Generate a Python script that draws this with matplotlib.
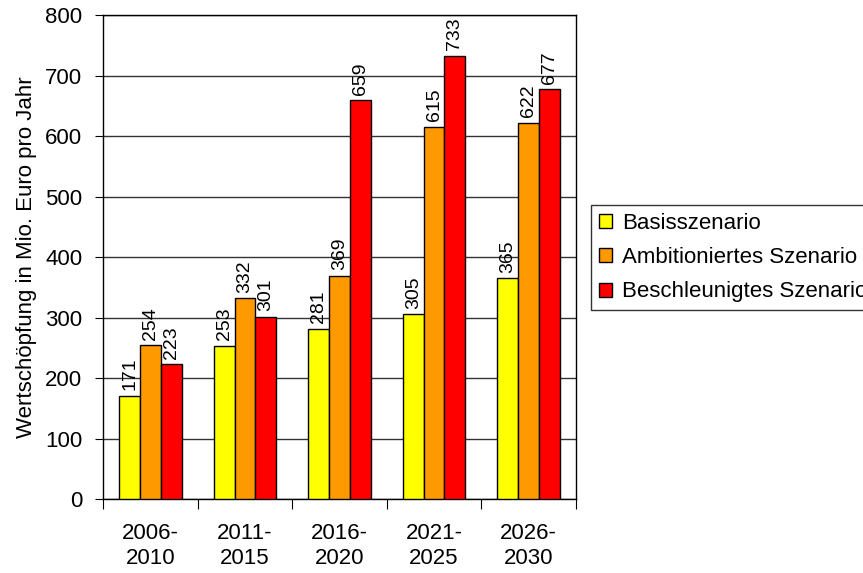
import numpy as np
import matplotlib.pyplot as plt

plt.rcParams['font.family'] = ['Liberation Sans', 'DejaVu Sans']

zeitraeume = ['2006-\n2010', '2011-\n2015', '2016-\n2020', '2021-\n2025', '2026-\n2030']
basis = [171, 253, 281, 305, 365]
ambitioniert = [254, 332, 369, 615, 622]
beschleunigt = [223, 301, 659, 733, 677]

szenarien = ['Basisszenario', 'Ambitioniertes Szenario', 'Beschleunigtes Szenario']
farben = ['#FFFF00', '#FF9900', '#FF0000']

fig = plt.figure(figsize=(8.63, 5.73), dpi=100)
ax = fig.add_axes([0.1194, 0.1291, 0.548, 0.8447])

x = np.arange(len(zeitraeume))
breite = 0.22
for i, (werte, name, farbe) in enumerate(zip([basis, ambitioniert, beschleunigt], szenarien, farben)):
    pos = x + (i - 1) * breite
    bars = ax.bar(pos, werte, breite, color=farbe, edgecolor='black', linewidth=1,
                  label=name, zorder=3)
    for b, w in zip(bars, werte):
        ax.annotate(str(w), (b.get_x() + b.get_width() / 2, w), xytext=(0, 4),
                    textcoords='offset points', rotation=90, ha='center', va='bottom',
                    fontsize=14)

ax.set_xlim(-0.5, len(zeitraeume) - 0.5)
ax.set_ylim(0, 800)
ax.set_yticks(range(0, 801, 100))
ax.yaxis.grid(True, color='#333333', linewidth=1, zorder=0)

# Kategorien zwischen den Teilstrichen
ax.set_xticks(np.arange(-0.5, len(zeitraeume)), minor=False)
ax.set_xticklabels([])
ax.set_xticks(x, minor=True)
ax.set_xticklabels(zeitraeume, minor=True, fontsize=16, linespacing=1.3)
ax.tick_params(axis='x', which='minor', length=0, pad=17)
ax.tick_params(axis='x', which='major', length=7, direction='out', color='black')
ax.tick_params(axis='y', length=6, direction='out', labelsize=16, pad=9)

for s in ax.spines.values():
    s.set_color('black')
    s.set_linewidth(1)

ax.set_ylabel('Wertschöpfung in Mio. Euro pro Jahr', fontsize=16, labelpad=6)

fig.legend(loc='upper left', bbox_to_anchor=(591 / 863, 1 - 205 / 573), fontsize=16,
           frameon=True, fancybox=False, edgecolor='black', borderpad=0.35,
           handlelength=0.6, handleheight=0.6, handletextpad=0.45, labelspacing=0.6,
           borderaxespad=0)

fig.savefig('out.png', dpi=100)
